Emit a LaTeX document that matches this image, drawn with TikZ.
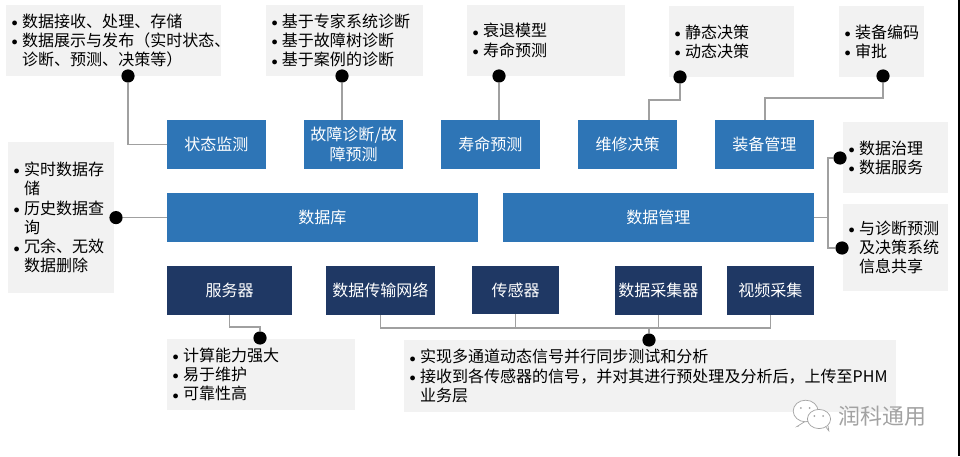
\documentclass[tikz,border=0pt]{standalone}
\usepackage{fontspec}
\setmainfont{Noto Sans CJK SC}
\usepackage{xcolor}
\usetikzlibrary{shapes,positioning}
\definecolor{upblue}{HTML}{2E75B6}
\definecolor{lowblue}{HTML}{1F3864}
\definecolor{notegray}{HTML}{F2F2F2}
\definecolor{wiregray}{HTML}{A0A0A0}
\definecolor{markgray}{HTML}{A2A2A2}
\newcommand{\itm}{\makebox[0.2cm][l]{\hspace*{-0.06cm}\raisebox{0.015cm}{\scalebox{0.8}{$\bullet$}}}}
\newcommand{\hng}{\hspace*{0.2cm}}
\tikzset{upbox/.style={rectangle,fill=upblue,text=white,font=\fontsize{11.4pt}{14pt}\selectfont,align=center,inner sep=0pt,minimum height=1.225cm},
lowbox/.style={upbox,fill=lowblue},
note/.style={rectangle,fill=notegray,text=black,font=\fontsize{11.4pt}{13.7pt}\selectfont,align=left,inner xsep=0.2cm,inner ysep=0pt,minimum height=1.775cm},
blob/.style={circle,fill=black,inner sep=0pt,minimum size=0.33cm},
wire/.style={draw=wiregray,line width=1.1pt},
bubble/.style={draw=markgray,fill=white,line width=0.5pt}}

\begin{document}
\begin{tikzpicture}
    \useasboundingbox (0,0) rectangle (24,11.4);

    % upper row
    \node[upbox,minimum width=2.475cm] (zt) at (5.41,7.79) {状态监测};
    \node[upbox,minimum width=2.475cm] (gz) at (8.84,7.79) {故障诊断/故\\障预测};
    \node[upbox,minimum width=2.475cm] (sm) at (12.26,7.79) {寿命预测};
    \node[upbox,minimum width=2.475cm] (wx) at (15.69,7.79) {维修决策};
    \node[upbox,minimum width=2.475cm] (zb) at (19.11,7.79) {装备管理};

    \node[upbox,minimum width=7.775cm] (db) at (8.06,5.96) {数据库};
    \node[upbox,minimum width=7.775cm] (dm) at (16.46,5.96) {数据管理};

    % lower row
    \node[lowbox,minimum width=3.125cm] (fw) at (5.74,4.14) {服务器};
    \node[lowbox,minimum width=2.725cm] (net) at (9.51,4.14) {数据传输网络};
    \node[lowbox,minimum width=2.175cm,minimum height=1.2cm] (cg) at (12.89,4.15) {传感器};
    \node[lowbox,minimum width=2.175cm] (cj) at (16.46,4.14) {数据采集器};
    \node[lowbox,minimum width=2.175cm] (sp) at (19.26,4.14) {视频采集};

    % notes
    \node[note,minimum width=5.375cm,text width=4.975cm] (na) at (2.84,10.39) {\itm 数据接收、处理、存储\\\itm 数据展示与发布（实时状态、\\\hng 诊断、预测、决策等）};
    \node[note,minimum width=3.925cm,text width=3.525cm] (nb) at (8.61,10.39) {\itm 基于专家系统诊断\\\itm 基于故障树诊断\\\itm 基于案例的诊断};
    \node[note,minimum width=3.95cm,text width=3.55cm] (nc) at (13.65,10.39) {\itm 衰退模型\\\itm 寿命预测};
    \node[note,minimum width=3.125cm,text width=2.725cm] (nd) at (18.29,10.36) {\itm 静态决策\\\itm 动态决策};
    \node[note,minimum width=2.125cm,text width=1.725cm] (ne) at (22.04,10.36) {\itm 装备编码\\\itm 审批};
    \node[note,minimum width=2.625cm,text width=2.225cm] (nf) at (22.39,7.46) {\itm 数据治理\\\itm 数据服务};
    \node[note,minimum width=2.625cm,text width=2.225cm,minimum height=2.175cm] (ng) at (22.39,5.21) {\itm 与诊断预测\\\hng 及决策系统\\\hng 信息共享};
    \node[note,minimum width=2.65cm,text width=2.25cm,minimum height=3.775cm] (nh) at (1.525,5.96) {\itm 实时数据存\\\hng 储\\\itm 历史数据查\\\hng 询\\\itm 冗余、无效\\\hng 数据删除};
    \node[note,minimum width=4.7cm,text width=4.3cm] (ni) at (6.525,2.04) {\itm 计算能力强大\\\itm 易于维护\\\itm 可靠性高};
    \node[note,minimum width=12.3cm,text width=11.9cm,minimum height=1.8cm] (nj) at (16.25,2.0) {\itm 实现多通道动态信号并行同步测试和分析\\\itm 接收到各传感器的信号，并对其进行预处理及分析后，上传至PHM\\\hng 业务层};

    % dots
    \node[blob] (da) at (3.2,9.5) {};
    \node[blob] (db1) at (8.55,9.5) {};
    \node[blob] (dc) at (12.475,9.5) {};
    \node[blob] (dd) at (17,9.475) {};
    \node[blob] (de) at (22.075,9.5) {};
    \node[blob] (df) at (21,7.45) {};
    \node[blob] (dg) at (21.05,5.2) {};
    \node[blob] (dh) at (2.9,5.96) {};
    \node[blob] (di) at (6.5,2.95) {};
    \node[blob] (dj) at (16.225,2.9) {};

    \coordinate (dmj) at (20.7,5.96);
    \coordinate (bus) at (16.225,3.2);

    \draw [wire] (da) |- (zt);
    \draw [wire] (db1) -- (db1 |- gz.north);
    \draw [wire] (dc) -- (dc |- sm.north);
    \draw [wire] (dd) -- ++(0,-0.575) -| ([xshift=0.54cm]wx.north);
    \draw [wire] (de) -- ++(0,-0.55) -| ([xshift=0.01cm]zb.north);
    \draw [wire] (dm.east) -- (dmj);
    \draw [wire] (df) -| (dmj);
    \draw [wire] (dg) -| (dmj);
    \draw [wire] (dh) -- (db.west);
    \draw [wire] (fw.south) -- ++(0,-0.3) -| (di);
    \draw [wire] (dj) -- (bus);
    \draw [wire] (net.south) |- (bus);
    \draw [wire] (cg.south) |- (bus);
    \draw [wire] (cj.south) |- (bus);
    \draw [wire] (sp.south) |- (bus);

    % watermark
    \draw [bubble] (19.97,0.75) -- (19.93,0.74) -- (20.15,0.88);
    \draw [bubble] (20.14,1.125) ellipse (0.31 and 0.27);
    \draw [bubble] (20.65,0.72) -- (20.72,0.63) -- (20.7,0.76);
    \draw [bubble] (20.475,0.925) ellipse (0.29 and 0.24);
    \fill [markgray] (20.02,1.2) circle (0.025) (20.24,1.2) circle (0.025) (20.36,1.0) circle (0.025) (20.58,1.0) circle (0.025);
    \node[text=markgray,font=\fontsize{15.6pt}{18pt}\selectfont,inner sep=0pt] (mark) at (22.07,1.0) {润科通用};

    % right edge of the image
    \fill [black] (23.96,0) rectangle (24,11.4);
\end{tikzpicture}
\end{document}
